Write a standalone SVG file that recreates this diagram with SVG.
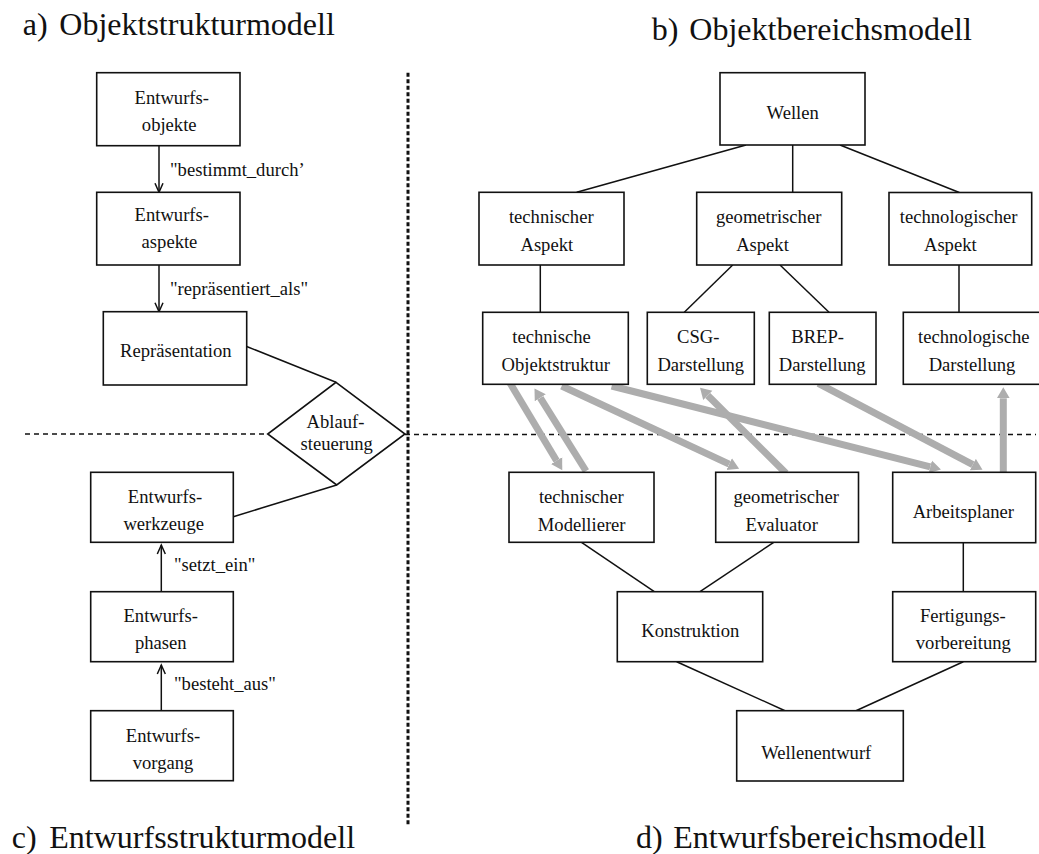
<svg xmlns="http://www.w3.org/2000/svg" width="1039" height="854" viewBox="0 0 1039 854">
<style>
.bg{fill:#fff}
.box{fill:#fff;stroke:#111;stroke-width:1.6}
.t{font-family:"Liberation Serif","Times New Roman",serif;font-size:18.6px;fill:#111;text-anchor:middle}
.l{font-family:"Liberation Serif","Times New Roman",serif;font-size:18.6px;fill:#111}
.title{font-family:"Liberation Serif","Times New Roman",serif;font-size:32px;fill:#111}
.c{stroke:#111;stroke-width:1.5;fill:none}
.g{stroke:#adadad;stroke-width:7;fill:none}
.dash{stroke:#111;stroke-width:1.4;stroke-dasharray:5 4;fill:none}
.dot{stroke:#111;stroke-width:3;stroke-dasharray:4 2.5;fill:none}
</style>
<defs>
<marker id="open" markerUnits="userSpaceOnUse" viewBox="-10 -5 12 10" markerWidth="12" markerHeight="10" refX="0" refY="0" orient="auto">
<path d="M-9,-4 L0,0 L-9,4" fill="none" stroke="#111" stroke-width="1.5"/>
</marker>
<marker id="gh" markerUnits="userSpaceOnUse" viewBox="0 -7 12 14" markerWidth="12" markerHeight="14" refX="0" refY="0" orient="auto">
<path d="M0,-6.5 L11,0 L0,6.5 Z" fill="#adadad"/>
</marker>
</defs>
<rect class="bg" x="0" y="0" width="1039" height="854"/>

<g id="titles">
<text class="title" x="22.7" y="35">a)<tspan x="59.3">Objektstrukturmodell</tspan></text>
<text class="title" x="651.7" y="40">b)<tspan x="689.3">Objektbereichsmodell</tspan></text>
<text class="title" x="11.7" y="848">c)<tspan x="49.3">Entwurfsstrukturmodell</tspan></text>
<text class="title" x="636" y="848">d)<tspan x="673.3">Entwurfsbereichsmodell</tspan></text>
</g>

<g id="separators">
<line class="dot" x1="408" y1="72.7" x2="408" y2="825"/>
<line class="dash" x1="25" y1="434" x2="267.7" y2="434"/>
<line class="dash" x1="405" y1="434.5" x2="1036" y2="434.5"/>
</g>

<g id="connectors">
<line class="c" x1="159" y1="145.7" x2="159" y2="192.3" marker-end="url(#open)"/>
<line class="c" x1="159" y1="265" x2="159" y2="311.7" marker-end="url(#open)"/>
<line class="c" x1="161.3" y1="591.7" x2="161.3" y2="545" marker-end="url(#open)"/>
<line class="c" x1="161.3" y1="710.7" x2="161.3" y2="665" marker-end="url(#open)"/>
<line class="c" x1="246.7" y1="346.5" x2="336" y2="382.3"/>
<line class="c" x1="336.7" y1="485" x2="233.3" y2="516.7"/>
<line class="c" x1="746" y1="145" x2="576.7" y2="192.3"/>
<line class="c" x1="792.7" y1="145" x2="792.7" y2="192.3"/>
<line class="c" x1="840" y1="145" x2="959.3" y2="192.5"/>
<line class="c" x1="540.3" y1="265" x2="540.3" y2="312.3"/>
<line class="c" x1="732.7" y1="265" x2="684.3" y2="312.3"/>
<line class="c" x1="780" y1="265" x2="829" y2="312.3"/>
<line class="c" x1="959" y1="265" x2="959" y2="312.3"/>
<line class="c" x1="581.5" y1="542.3" x2="654.3" y2="591.7"/>
<line class="c" x1="773.7" y1="542.3" x2="700" y2="591.7"/>
<line class="c" x1="963.3" y1="542.7" x2="963.3" y2="591.7"/>
<line class="c" x1="676.7" y1="661.7" x2="785" y2="710.7"/>
<line class="c" x1="963.3" y1="661.7" x2="856" y2="710.7"/>
<g id="grey-arrows">
<line class="g" x1="510" y1="383" x2="556.6" y2="460.7" marker-end="url(#gh)"/>
<line class="g" x1="586" y1="471" x2="540.3" y2="397.8" marker-end="url(#gh)"/>
<line class="g" x1="561.7" y1="386" x2="729.2" y2="464.1" marker-end="url(#gh)"/>
<line class="g" x1="611.7" y1="386" x2="930.3" y2="466.8" marker-end="url(#gh)"/>
<line class="g" x1="786" y1="473.3" x2="707.8" y2="395.4" marker-end="url(#gh)"/>
<line class="g" x1="818.3" y1="383.3" x2="972.8" y2="464.6" marker-end="url(#gh)"/>
<line class="g" x1="1003.3" y1="475" x2="1003.3" y2="398.3" marker-end="url(#gh)"/>
</g>
<text class="l" x="170" y="175.7">"bestimmt_durch’</text>
<text class="l" x="170" y="295">"repräsentiert_als"</text>
<text class="l" x="174" y="570.7">"setzt_ein"</text>
<text class="l" x="174" y="690">"besteht_aus"</text>
</g>

<g id="n-entwurfsobjekte">
<rect class="box" x="96.7" y="72.7" width="143.3" height="73"/>
<text class="t" x="171.8" y="104">Entwurfs-</text>
<text class="t" x="169.2" y="131">objekte</text>
</g>
<g id="n-entwurfsaspekte">
<rect class="box" x="96.7" y="192.3" width="143.3" height="72.7"/>
<text class="t" x="171.8" y="220.7">Entwurfs-</text>
<text class="t" x="169.5" y="248.3">aspekte</text>
</g>
<g id="n-repraesentation">
<rect class="box" x="103.3" y="311.7" width="143.4" height="73.3"/>
<text class="t" x="175.8" y="357.3">Repräsentation</text>
</g>
<g id="n-ablaufsteuerung">
<polygon class="box" points="336,382.3 405,434 336.7,485 267.7,434"/>
<text class="t" x="335.5" y="428.3">Ablauf-</text>
<text class="t" x="336.7" y="450">steuerung</text>
</g>
<g id="n-entwurfswerkzeuge">
<rect class="box" x="90.7" y="472.3" width="142.6" height="70"/>
<text class="t" x="165" y="503.3">Entwurfs-</text>
<text class="t" x="163.7" y="530">werkzeuge</text>
</g>
<g id="n-entwurfsphasen">
<rect class="box" x="90.7" y="591.7" width="142.6" height="70"/>
<text class="t" x="160.7" y="621.7">Entwurfs-</text>
<text class="t" x="160.8" y="649.3">phasen</text>
</g>
<g id="n-entwurfsvorgang">
<rect class="box" x="90.7" y="710.7" width="142.6" height="70"/>
<text class="t" x="163" y="741.7">Entwurfs-</text>
<text class="t" x="163" y="769.3">vorgang</text>
</g>

<g id="n-wellen">
<rect class="box" x="720" y="72.7" width="145" height="72.3"/>
<text class="t" x="792.7" y="119">Wellen</text>
</g>
<g id="n-technischer-aspekt">
<rect class="box" x="479" y="192.3" width="145" height="72.7"/>
<text class="t" x="551.3" y="223">technischer</text>
<text class="t" x="546.8" y="250.7">Aspekt</text>
</g>
<g id="n-geometrischer-aspekt">
<rect class="box" x="696.7" y="192.3" width="145" height="72.7"/>
<text class="t" x="768.7" y="223">geometrischer</text>
<text class="t" x="762.5" y="250.7">Aspekt</text>
</g>
<g id="n-technologischer-aspekt">
<rect class="box" x="889" y="192.5" width="142.7" height="72.5"/>
<text class="t" x="958.7" y="223.3">technologischer</text>
<text class="t" x="950.3" y="251">Aspekt</text>
</g>
<g id="n-technische-objektstruktur">
<rect class="box" x="482.7" y="312.3" width="145.6" height="72"/>
<text class="t" x="551.5" y="342.7">technische</text>
<text class="t" x="555.8" y="370.7">Objektstruktur</text>
</g>
<g id="n-csg">
<rect class="box" x="647.3" y="312.3" width="107" height="72"/>
<text class="t" x="698.3" y="342.7">CSG-</text>
<text class="t" x="700.8" y="370.7">Darstellung</text>
</g>
<g id="n-brep">
<rect class="box" x="769.3" y="312.3" width="106.7" height="72"/>
<text class="t" x="817.6" y="342.7">BREP-</text>
<text class="t" x="822.2" y="370.7">Darstellung</text>
</g>
<g id="n-technologische-darstellung">
<rect class="box" x="903.3" y="312.3" width="141" height="72"/>
<text class="t" x="973.8" y="343.3">technologische</text>
<text class="t" x="972" y="370.7">Darstellung</text>
</g>
<g id="n-technischer-modellierer">
<rect class="box" x="509" y="472.3" width="145" height="70"/>
<text class="t" x="581.3" y="502.7">technischer</text>
<text class="t" x="581.7" y="530.7">Modellierer</text>
</g>
<g id="n-geometrischer-evaluator">
<rect class="box" x="715.7" y="472.3" width="142.8" height="70"/>
<text class="t" x="786.2" y="502.7">geometrischer</text>
<text class="t" x="781.7" y="530.7">Evaluator</text>
</g>
<g id="n-arbeitsplaner">
<rect class="box" x="892.7" y="472.3" width="143" height="70.4"/>
<text class="t" x="963.3" y="517.7">Arbeitsplaner</text>
</g>
<g id="n-konstruktion">
<rect class="box" x="617.3" y="591.7" width="145.4" height="70"/>
<text class="t" x="690.3" y="636.7">Konstruktion</text>
</g>
<g id="n-fertigungsvorbereitung">
<rect class="box" x="892.7" y="591.7" width="143" height="70"/>
<text class="t" x="962.8" y="621.7">Fertigungs-</text>
<text class="t" x="963.3" y="649.3">vorbereitung</text>
</g>
<g id="n-wellenentwurf">
<rect class="box" x="736.7" y="710.7" width="166.6" height="70.3"/>
<text class="t" x="816.3" y="759">Wellenentwurf</text>
</g>
</svg>
